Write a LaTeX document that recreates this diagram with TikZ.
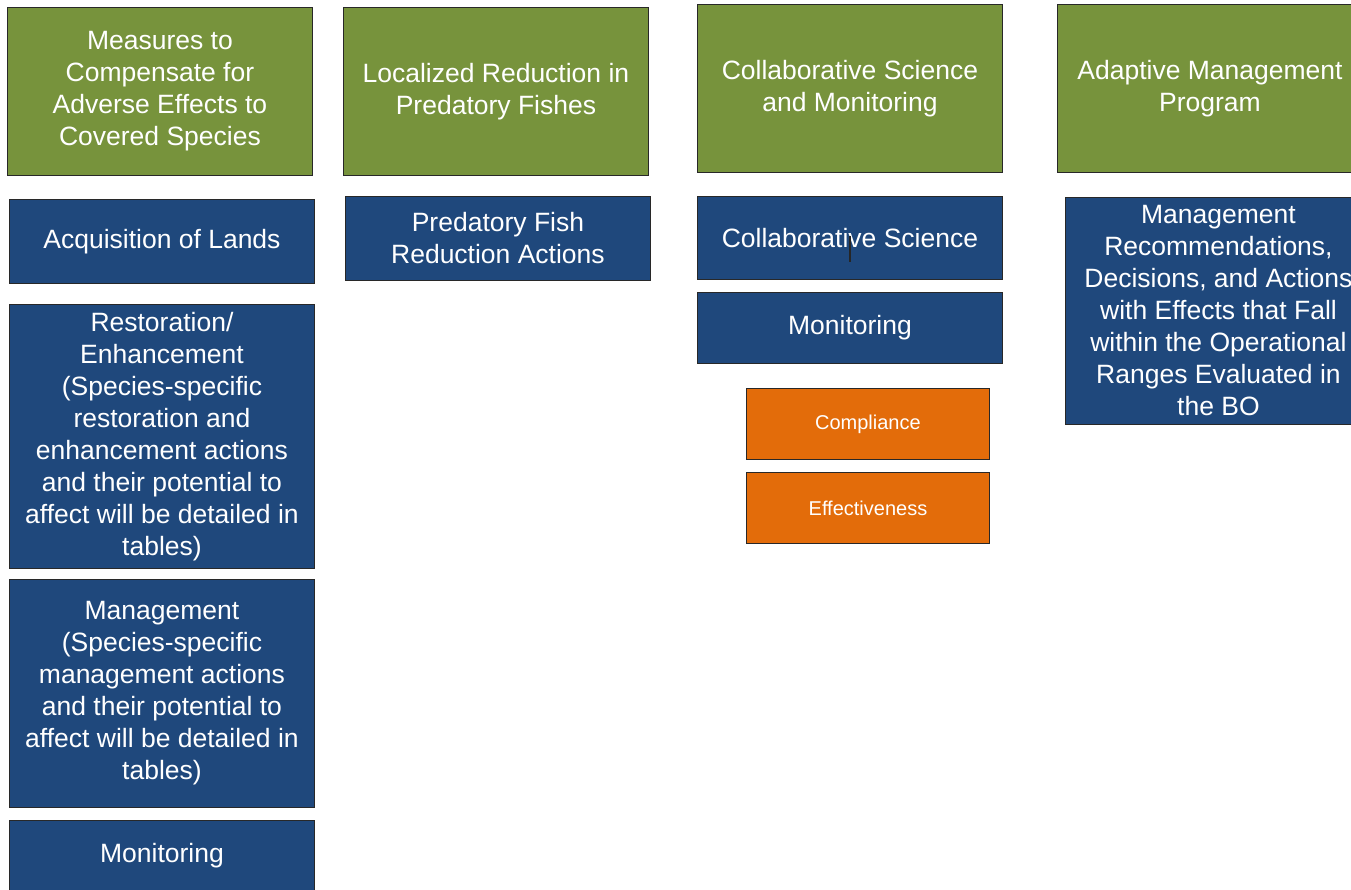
\documentclass[tikz,border=0pt]{standalone}
\usepackage{fontspec}
\setmainfont{Liberation Sans}
\definecolor{boxgreen}{RGB}{119,147,60}
\definecolor{boxblue}{RGB}{31,72,124}
\definecolor{boxorange}{RGB}{227,108,10}
\definecolor{edgec}{RGB}{40,40,40}
\tikzset{
  base/.style={anchor=north west, draw=edgec, line width=0.9pt, text=white, align=center, inner sep=0pt,
    font=\fontsize{26.5}{32}\selectfont},
  gbox/.style={base, fill=boxgreen, minimum width=305pt, minimum height=168pt},
  bbox/.style={base, fill=boxblue, minimum width=305pt},
  obox/.style={base, fill=boxorange, minimum width=243pt, minimum height=71pt, font=\fontsize{20}{24}\selectfont},
}
\begin{document}
\begin{tikzpicture}[x=1pt,y=-1pt]
\useasboundingbox (0,0) rectangle (1351,889);
\clip (0,0) rectangle (1351,889);
% green headers
\node[gbox] (g1) at (7,7) {Measures to\\Compensate for\\Adverse Effects to\\Covered Species};
\node[gbox] (g2) at (343,7) {Localized Reduction in\\Predatory Fishes};
\node[gbox] (g3) at (697,4) {Collaborative Science\\and Monitoring};
\node[gbox] (g4) at (1057,4) {Adaptive Management\\Program};
% column 1
\node[bbox, minimum height=84pt] (acq) at (9,199) {Acquisition of Lands};
\node[bbox, minimum height=264pt] (rest) at (9,304) {Restoration/\\Enhancement\\(Species-specific\\restoration and\\enhancement actions\\and their potential to\\affect will be detailed in\\tables)};
\node[bbox, minimum height=228pt] (mgmt) at (9,579) {Management\\(Species-specific\\management actions\\and their potential to\\affect will be detailed in\\tables)};
\node[bbox, minimum height=70pt] (mon1) at (9,820) {Monitoring};
% column 2
\node[bbox, minimum height=84pt] (pred) at (345,196) {Predatory Fish\\Reduction Actions};
% column 3
\node[bbox, minimum height=83pt] (csci) at (697,196) {Collaborative Science};
\node[bbox, minimum height=71pt] (mon2) at (697,292) {Monitoring};
\node[obox] (comp) at (746,388) {Compliance};
\node[obox] (eff) at (746,472) {Effectiveness};
% column 4
\node[bbox, minimum width=306pt, minimum height=227pt] (mrec) at (1065,197) {Management\\Recommendations,\\Decisions, and Actions\\with Effects that Fall\\within the Operational\\Ranges Evaluated in\\the BO};
% cursor mark inside Collaborative Science
\draw[line width=1.2pt, color=black!85] (850,236) -- (850,262);
\end{tikzpicture}
\end{document}
